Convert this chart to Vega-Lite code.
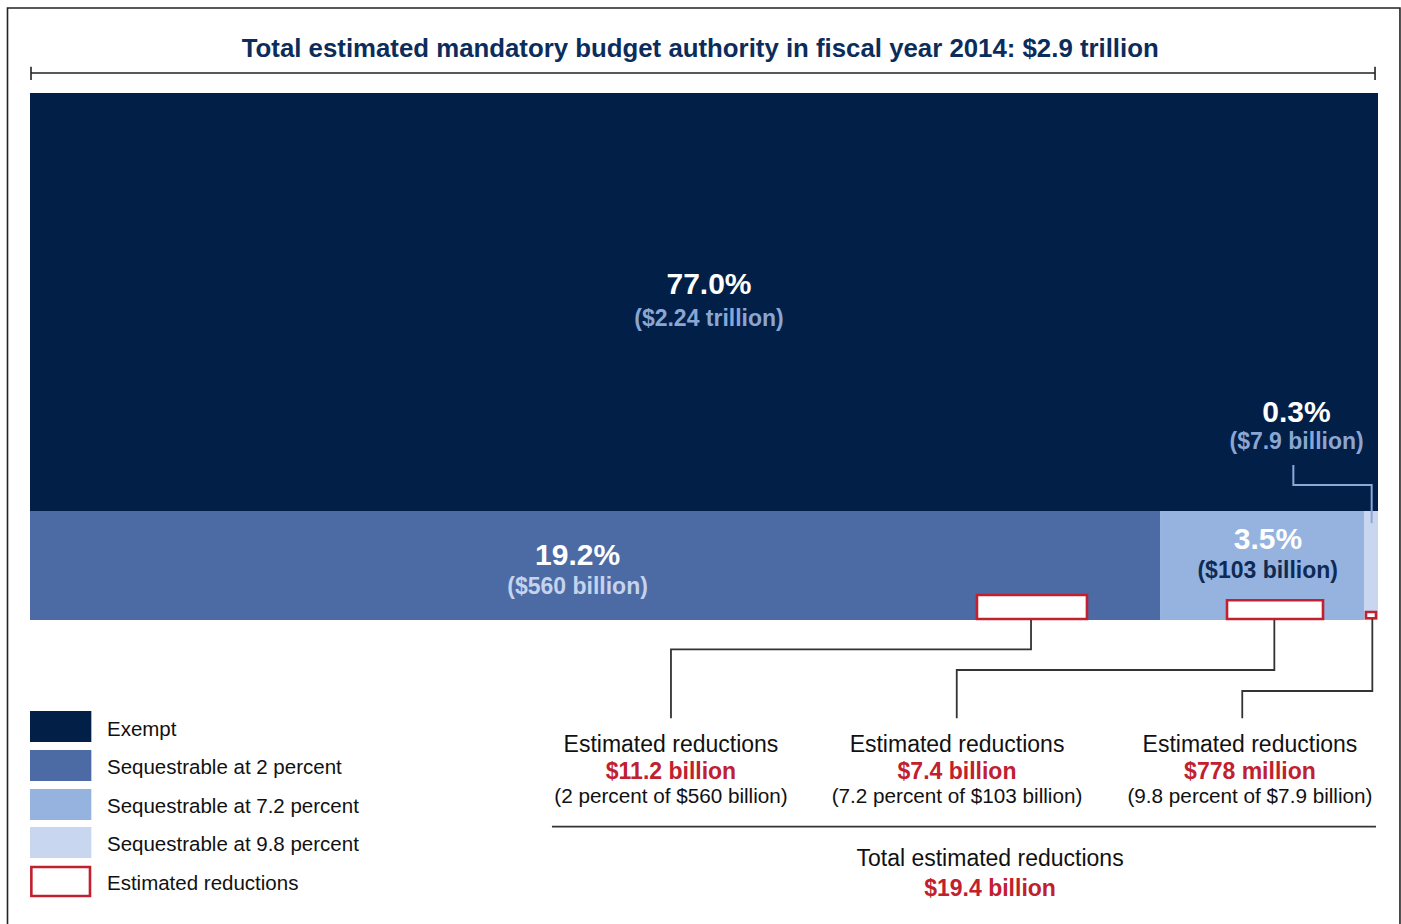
{
  "$schema": "https://vega.github.io/schema/vega-lite/v6.json",
  "width": 1348,
  "height": 527,
  "autosize": {"type": "none"},
  "padding": {"left": 30, "right": 23, "top": 93, "bottom": 304},
  "background": "white",
  "config": {"view": {"stroke": null}, "font": "Liberation Sans"},
  "datasets": {
    "frame": [{"x0": -1.669, "x1": 101.63, "y0": 116.13, "y1": -60}],
    "title": [{"text": "Total estimated mandatory budget authority in fiscal year 2014: $2.9 trillion", "x": 49.72, "y": 108.3}],
    "span": [
      {"part": "line", "x0": 0.074, "x1": 99.78, "y0": 103.8, "y1": 103.8},
      {"part": "left tick", "x0": 0.074, "x1": 0.074, "y0": 105.0, "y1": 102.47},
      {"part": "right tick", "x0": 99.78, "x1": 99.78, "y0": 105.0, "y1": 102.47}
    ],
    "blocks": [
      {"category": "Exempt", "share": 77.0, "amount": "$2.24 trillion", "x0": 0, "x1": 100, "y0": 20.68, "y1": 100},
      {"category": "Sequestrable at 2 percent", "share": 19.2, "amount": "$560 billion", "x0": 0, "x1": 83.83, "y0": 0, "y1": 20.68},
      {"category": "Sequestrable at 7.2 percent", "share": 3.5, "amount": "$103 billion", "x0": 83.83, "x1": 98.96, "y0": 0, "y1": 20.68},
      {"category": "Sequestrable at 9.8 percent", "share": 0.3, "amount": "$7.9 billion", "x0": 98.96, "x1": 100, "y0": 0, "y1": 20.68}
    ],
    "blockLabels": [
      {"text": "77.0%", "role": "pct", "x": 50.37, "y": 63.57},
      {"text": "($2.24 trillion)", "role": "amtMid", "x": 50.37, "y": 57.12},
      {"text": "19.2%", "role": "pct", "x": 40.62, "y": 12.14},
      {"text": "($560 billion)", "role": "amtPale", "x": 40.62, "y": 6.26},
      {"text": "3.5%", "role": "pct", "x": 91.84, "y": 15.18},
      {"text": "($103 billion)", "role": "amtDark", "x": 91.82, "y": 9.3},
      {"text": "0.3%", "role": "pct", "x": 93.95, "y": 39.28},
      {"text": "($7.9 billion)", "role": "amtMid", "x": 93.96, "y": 33.78}
    ],
    "pointer": [
      {"id": "9.8", "seq": 1, "x": 93.72, "y": 29.41},
      {"id": "9.8", "seq": 2, "x": 93.72, "y": 25.62},
      {"id": "9.8", "seq": 3, "x": 99.53, "y": 25.62},
      {"id": "9.8", "seq": 4, "x": 99.53, "y": 18.35}
    ],
    "reductionBoxes": [
      {"segment": "2 percent", "x0": 70.25, "x1": 78.41, "y0": 0.19, "y1": 4.74},
      {"segment": "7.2 percent", "x0": 88.8, "x1": 95.92, "y0": 0.19, "y1": 3.74},
      {"segment": "9.8 percent", "x0": 99.11, "x1": 99.85, "y0": 0.32, "y1": 1.52}
    ],
    "connectors": [
      {"id": "2", "seq": 1, "x": 74.26, "y": 0},
      {"id": "2", "seq": 2, "x": 74.26, "y": -5.56},
      {"id": "2", "seq": 3, "x": 47.55, "y": -5.56},
      {"id": "2", "seq": 4, "x": 47.55, "y": -18.66},
      {"id": "7.2", "seq": 1, "x": 92.31, "y": 0},
      {"id": "7.2", "seq": 2, "x": 92.31, "y": -9.49},
      {"id": "7.2", "seq": 3, "x": 68.75, "y": -9.49},
      {"id": "7.2", "seq": 4, "x": 68.75, "y": -18.66},
      {"id": "9.8", "seq": 1, "x": 99.58, "y": 0.19},
      {"id": "9.8", "seq": 2, "x": 99.58, "y": -13.47},
      {"id": "9.8", "seq": 3, "x": 89.93, "y": -13.47},
      {"id": "9.8", "seq": 4, "x": 89.93, "y": -18.66}
    ],
    "notes": [
      {"text": "Estimated reductions", "role": "head", "x": 47.55, "y": -23.72},
      {"text": "$11.2 billion", "role": "value", "x": 47.55, "y": -28.84},
      {"text": "(2 percent of $560 billion)", "role": "note", "x": 47.55, "y": -33.59},
      {"text": "Estimated reductions", "role": "head", "x": 68.77, "y": -23.72},
      {"text": "$7.4 billion", "role": "value", "x": 68.77, "y": -28.84},
      {"text": "(7.2 percent of $103 billion)", "role": "note", "x": 68.77, "y": -33.59},
      {"text": "Estimated reductions", "role": "head", "x": 90.5, "y": -23.72},
      {"text": "$778 million", "role": "value", "x": 90.5, "y": -28.84},
      {"text": "(9.8 percent of $7.9 billion)", "role": "note", "x": 90.5, "y": -33.59},
      {"text": "Total estimated reductions", "role": "head", "x": 71.22, "y": -45.35},
      {"text": "$19.4 billion", "role": "value", "x": 71.22, "y": -51.04}
    ],
    "divider": [{"x0": 38.72, "x1": 99.85, "y0": -39.22, "y1": -39.22}],
    "legend": [
      {"category": "Exempt", "x0": 0, "x1": 4.55, "y0": -17.27, "y1": -23.15, "lx": 5.71, "ly": -20.87},
      {"category": "Sequestrable at 2 percent", "x0": 0, "x1": 4.55, "y0": -24.67, "y1": -30.55, "lx": 5.71, "ly": -28.08},
      {"category": "Sequestrable at 7.2 percent", "x0": 0, "x1": 4.55, "y0": -32.07, "y1": -37.95, "lx": 5.71, "ly": -35.54},
      {"category": "Sequestrable at 9.8 percent", "x0": 0, "x1": 4.55, "y0": -39.28, "y1": -45.16, "lx": 5.71, "ly": -42.75}
    ],
    "legendReduction": [
      {"category": "Estimated reductions", "x0": 0.1, "x1": 4.45, "y0": -46.87, "y1": -52.37, "lx": 5.71, "ly": -50.15}
    ]
  },
  "layer": [
    {
      "data": {"name": "frame"},
      "mark": {"type": "rect", "filled": false, "stroke": "#222222", "strokeWidth": 1.6},
      "encoding": {
        "x": {"field": "x0", "type": "quantitative", "scale": {"domain": [0, 100], "nice": false, "zero": false}, "axis": null},
        "x2": {"field": "x1"},
        "y": {"field": "y0", "type": "quantitative", "scale": {"domain": [0, 100], "nice": false, "zero": false}, "axis": null},
        "y2": {"field": "y1"}
      }
    },
    {
      "data": {"name": "title"},
      "mark": {"type": "text", "align": "center", "baseline": "middle", "fontSize": 25.8, "fontWeight": "bold", "color": "#0c2d5b"},
      "encoding": {
        "x": {"field": "x", "type": "quantitative"},
        "y": {"field": "y", "type": "quantitative"},
        "text": {"field": "text"}
      }
    },
    {
      "data": {"name": "span"},
      "mark": {"type": "rule", "color": "#222222", "strokeWidth": 1.6},
      "encoding": {
        "x": {"field": "x0", "type": "quantitative"},
        "x2": {"field": "x1"},
        "y": {"field": "y0", "type": "quantitative"},
        "y2": {"field": "y1"}
      }
    },
    {
      "data": {"name": "blocks"},
      "mark": {"type": "rect"},
      "encoding": {
        "x": {"field": "x0", "type": "quantitative"},
        "x2": {"field": "x1"},
        "y": {"field": "y0", "type": "quantitative"},
        "y2": {"field": "y1"},
        "color": {"field": "category", "type": "nominal", "legend": null,
          "scale": {"domain": ["Exempt", "Sequestrable at 2 percent", "Sequestrable at 7.2 percent", "Sequestrable at 9.8 percent"],
                    "range": ["#011f47", "#4c6ba5", "#95b3de", "#c9d6ef"]}}
      }
    },
    {
      "data": {"name": "blockLabels"},
      "transform": [{"filter": "datum.role === 'pct'"}],
      "mark": {"type": "text", "align": "center", "baseline": "middle", "fontSize": 30, "fontWeight": "bold", "color": "#ffffff"},
      "encoding": {"x": {"field": "x", "type": "quantitative"}, "y": {"field": "y", "type": "quantitative"}, "text": {"field": "text"}}
    },
    {
      "data": {"name": "blockLabels"},
      "transform": [{"filter": "datum.role === 'amtMid'"}],
      "mark": {"type": "text", "align": "center", "baseline": "middle", "fontSize": 23, "fontWeight": "bold", "color": "#8ba6d3"},
      "encoding": {"x": {"field": "x", "type": "quantitative"}, "y": {"field": "y", "type": "quantitative"}, "text": {"field": "text"}}
    },
    {
      "data": {"name": "blockLabels"},
      "transform": [{"filter": "datum.role === 'amtPale'"}],
      "mark": {"type": "text", "align": "center", "baseline": "middle", "fontSize": 23, "fontWeight": "bold", "color": "#c5d3ec"},
      "encoding": {"x": {"field": "x", "type": "quantitative"}, "y": {"field": "y", "type": "quantitative"}, "text": {"field": "text"}}
    },
    {
      "data": {"name": "blockLabels"},
      "transform": [{"filter": "datum.role === 'amtDark'"}],
      "mark": {"type": "text", "align": "center", "baseline": "middle", "fontSize": 23, "fontWeight": "bold", "color": "#0e2a55"},
      "encoding": {"x": {"field": "x", "type": "quantitative"}, "y": {"field": "y", "type": "quantitative"}, "text": {"field": "text"}}
    },
    {
      "data": {"name": "pointer"},
      "mark": {"type": "line", "color": "#8ca8d6", "strokeWidth": 2, "interpolate": "linear"},
      "encoding": {
        "x": {"field": "x", "type": "quantitative"},
        "y": {"field": "y", "type": "quantitative"},
        "detail": {"field": "id"},
        "order": {"field": "seq", "type": "quantitative"}
      }
    },
    {
      "data": {"name": "reductionBoxes"},
      "mark": {"type": "rect", "fill": "#ffffff", "stroke": "#c1202f", "strokeWidth": 2.6},
      "encoding": {
        "x": {"field": "x0", "type": "quantitative"},
        "x2": {"field": "x1"},
        "y": {"field": "y0", "type": "quantitative"},
        "y2": {"field": "y1"}
      }
    },
    {
      "data": {"name": "connectors"},
      "mark": {"type": "line", "color": "#333333", "strokeWidth": 1.8, "interpolate": "linear"},
      "encoding": {
        "x": {"field": "x", "type": "quantitative"},
        "y": {"field": "y", "type": "quantitative"},
        "detail": {"field": "id"},
        "order": {"field": "seq", "type": "quantitative"}
      }
    },
    {
      "data": {"name": "notes"},
      "transform": [{"filter": "datum.role === 'head'"}],
      "mark": {"type": "text", "align": "center", "baseline": "middle", "fontSize": 23, "color": "#111111"},
      "encoding": {"x": {"field": "x", "type": "quantitative"}, "y": {"field": "y", "type": "quantitative"}, "text": {"field": "text"}}
    },
    {
      "data": {"name": "notes"},
      "transform": [{"filter": "datum.role === 'value'"}],
      "mark": {"type": "text", "align": "center", "baseline": "middle", "fontSize": 23, "fontWeight": "bold", "color": "#c1202f"},
      "encoding": {"x": {"field": "x", "type": "quantitative"}, "y": {"field": "y", "type": "quantitative"}, "text": {"field": "text"}}
    },
    {
      "data": {"name": "notes"},
      "transform": [{"filter": "datum.role === 'note'"}],
      "mark": {"type": "text", "align": "center", "baseline": "middle", "fontSize": 20.7, "color": "#111111"},
      "encoding": {"x": {"field": "x", "type": "quantitative"}, "y": {"field": "y", "type": "quantitative"}, "text": {"field": "text"}}
    },
    {
      "data": {"name": "divider"},
      "mark": {"type": "rule", "color": "#333333", "strokeWidth": 1.8},
      "encoding": {
        "x": {"field": "x0", "type": "quantitative"},
        "x2": {"field": "x1"},
        "y": {"field": "y0", "type": "quantitative"},
        "y2": {"field": "y1"}
      }
    },
    {
      "data": {"name": "legend"},
      "mark": {"type": "rect"},
      "encoding": {
        "x": {"field": "x0", "type": "quantitative"},
        "x2": {"field": "x1"},
        "y": {"field": "y0", "type": "quantitative"},
        "y2": {"field": "y1"},
        "color": {"field": "category", "type": "nominal", "legend": null}
      }
    },
    {
      "data": {"name": "legendReduction"},
      "mark": {"type": "rect", "fill": "#ffffff", "stroke": "#c1202f", "strokeWidth": 2.6},
      "encoding": {
        "x": {"field": "x0", "type": "quantitative"},
        "x2": {"field": "x1"},
        "y": {"field": "y0", "type": "quantitative"},
        "y2": {"field": "y1"}
      }
    },
    {
      "data": {"name": "legend"},
      "mark": {"type": "text", "align": "left", "baseline": "middle", "fontSize": 20.5, "color": "#111111"},
      "encoding": {"x": {"field": "lx", "type": "quantitative"}, "y": {"field": "ly", "type": "quantitative"}, "text": {"field": "category"}}
    },
    {
      "data": {"name": "legendReduction"},
      "mark": {"type": "text", "align": "left", "baseline": "middle", "fontSize": 20.5, "color": "#111111"},
      "encoding": {"x": {"field": "lx", "type": "quantitative"}, "y": {"field": "ly", "type": "quantitative"}, "text": {"field": "category"}}
    }
  ]
}
